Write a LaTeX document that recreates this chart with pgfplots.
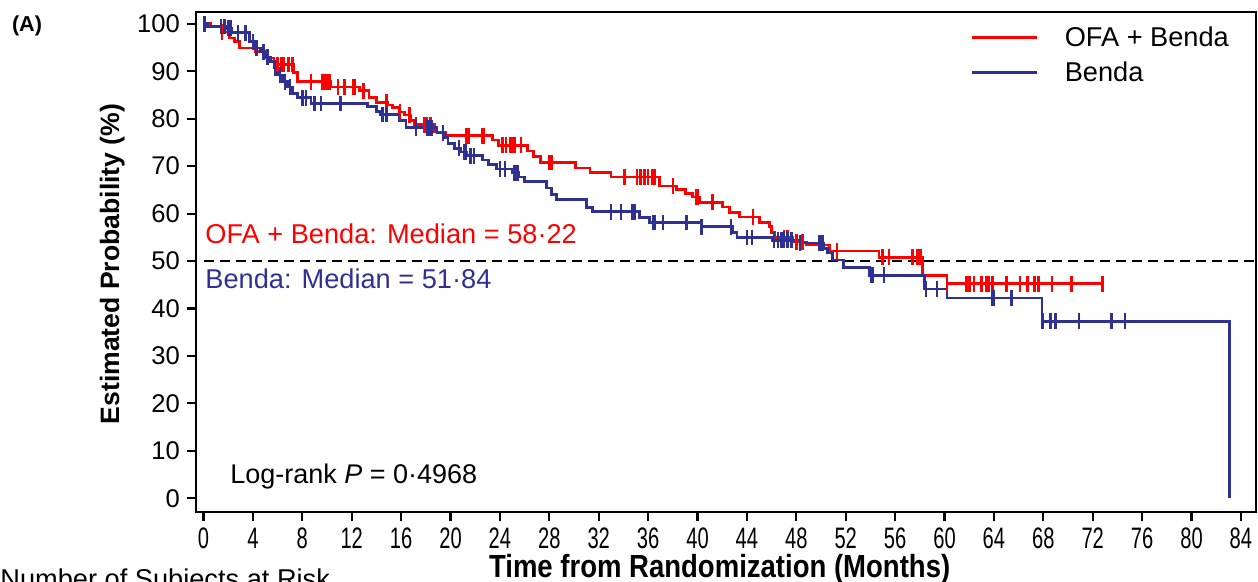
\documentclass[border=0pt]{standalone}
\usepackage{fontspec}
\setmainfont{Liberation Sans}
\newfontfamily\narrowfont[FakeStretch=0.68]{Liberation Sans}
\newfontfamily\narrowbold[FakeStretch=0.86]{Liberation Sans}
\usepackage{pgfplots}
\pgfplotsset{compat=1.18}
\definecolor{kmred}{RGB}{255,0,0}
\definecolor{kmblue}{RGB}{46,49,146}
\newcommand{\fs}[1]{\fontsize{#1}{#1}\selectfont}

\begin{document}
\begin{tikzpicture}
\begin{axis}[
  scale only axis,
  width=530pt, height=250pt,
  xmin=-0.61, xmax=85.22,
  ymin=-2.9, ymax=102.5,
  xtick={0,4,...,84},
  ytick={0,10,...,100},
  xtick pos=left, ytick pos=left,
  tick align=outside,
  major tick length=4.5pt,
  every tick/.style={black, line width=1.1pt},
  axis line style={line width=1.4pt},
  /pgf/number format/assume math mode=true,
  yticklabel style={font=\fs{12.8}},
  xticklabel style={font=\narrowfont\fs{14.8}},
  xlabel={Time from Randomization (Months)},
  xlabel style={at={(axis description cs:0.494,-0.114)}, anchor=center,
                font=\narrowbold\bfseries\fs{16}},
  ylabel={Estimated Probability (\%)},
  ylabel style={at={(axis description cs:-0.079,0.496)}, anchor=center,
                font=\bfseries\fs{13.3}},
  clip=false,
  legend style={at={(axis description cs:0.730,0.985)}, anchor=north west,
                draw=none, fill=none, inner sep=0pt, row sep=0pt,
                font=\fs{13.6},
                nodes={inner sep=2.4pt, text height=11pt, text depth=1.7pt, anchor=west},
                /tikz/every odd column/.append style={column sep=11pt}},
  legend cell align=left,
  legend image code/.code={\draw[#1] (0pt,0pt) -- (32.5pt,0pt);},
]

% median reference line
\addplot[black, line width=1.3pt, dash pattern=on 5pt off 3pt, forget plot]
  coordinates {(0,50) (85.22,50)};

% OFA + Benda
\addplot[kmred, line width=1.4pt, const plot mark left] coordinates {
  (0,100) (0.6,99.4) (1.5,98.3) (2.1,97.0) (2.5,96.2) (2.9,94.9) (4.2,94.1)
  (5.0,92.8) (5.7,91.4) (7.3,89.7) (7.6,87.8) (10.3,86.7) (12.6,85.9)
  (13.4,84.4) (14.0,83.5) (14.9,82.9) (15.3,82.3) (15.9,81.4) (16.3,80.8)
  (16.8,79.7) (17.1,78.7) (18.7,77.2) (19.6,76.4) (23.4,75.5) (23.9,74.4)
  (26.2,73.2) (26.7,72.0) (27.3,70.8) (30.1,69.6) (31.3,68.6) (33.0,67.7)
  (36.9,65.8) (38.3,65.0) (39.0,64.3) (39.6,63.5) (40.2,62.4) (42.0,61.4)
  (42.6,60.3) (43.4,59.3) (45.0,58.2) (45.8,57.2) (46.0,56.1) (46.2,54.9)
  (47.7,54.0) (48.8,53.4) (50.7,52.1) (54.7,50.8) (58.22,47.0) (60.2,45.2)
  (72.8,45.2)
};
\addlegendentry{OFA + Benda}

% Benda
\addplot[kmblue, line width=1.4pt, const plot mark left] coordinates {
  (0,100) (0.3,99.4) (1.8,99.1) (2.3,98.1) (3.7,96.2) (4.1,94.9) (4.6,94.1)
  (5.0,93.0) (5.4,92.0) (5.7,90.7) (6.0,89.2) (6.4,87.8) (6.8,86.7)
  (7.2,85.4) (7.6,84.4) (8.7,83.2) (13.3,82.5) (14.0,81.6) (14.3,80.9)
  (15.9,79.7) (16.4,78.1) (18.9,77.0) (19.5,76.0) (19.8,74.7) (20.3,73.8)
  (20.8,73.0) (21.3,72.2) (22.6,71.3) (23.1,70.3) (23.7,69.4) (25.0,68.6)
  (25.5,67.7) (26.0,66.7) (27.8,65.4) (28.2,64.0) (28.6,62.9) (31.0,61.3)
  (31.5,60.4) (35.3,59.1) (36.1,58.1) (40.3,57.2) (42.8,56.1) (43.2,55.0)
  (46.1,54.4) (48.3,53.8) (50.2,52.7) (50.5,51.7) (50.9,50.2) (51.84,48.7)
  (53.9,47.0) (58.4,44.1) (60.2,42.2) (67.9,37.3) (83.1,37.3) (83.1,0)
};
\addlegendentry{Benda}

% censored, OFA + Benda
\addplot[kmred, line width=1.3pt, only marks, mark=|, mark size=3.9pt, forget plot] coordinates {
  (1.5,98.3) (6.0,91.4) (6.3,91.4) (6.5,91.4) (6.9,91.4) (7.2,91.4)
  (8.7,87.8) (9.6,87.8) (9.8,87.8) (10.0,87.8) (10.2,87.8)
  (10.9,86.7) (11.4,86.7) (12.1,86.7) (12.2,86.7) (12.9,85.9) (13.0,85.9)
  (14.8,83.5) (15.9,81.4) (16.7,80.8) (17.2,78.7) (17.9,78.7) (18.1,78.7) (18.4,78.7)
  (21.3,76.4) (21.5,76.4) (22.6,76.4) (22.7,76.4)
  (24.2,74.4) (24.5,74.4) (24.8,74.4) (24.9,74.4) (25.0,74.4) (25.2,74.4) (25.7,74.4)
  (28.0,70.8) (28.2,70.8) (34.1,67.7)
  (35.1,67.7) (35.4,67.7) (35.7,67.7) (36.0,67.7) (36.3,67.7) (36.5,67.7)
  (38.0,65.8) (39.9,63.5) (40.0,63.5) (41.2,62.4) (44.5,59.3)
  (47.0,54.9) (47.3,54.9) (48.0,54.0) (48.5,54.0) (51.3,52.1)
  (55.0,50.8) (55.5,50.8) (57.4,50.8) (57.8,50.8) (58.0,50.8) (58.1,50.8)
  (60.2,45.2) (61.8,45.2) (62.0,45.2) (62.4,45.2) (63.0,45.2) (63.4,45.2)
  (63.6,45.2) (63.9,45.2) (65.0,45.2) (66.1,45.2) (66.7,45.2) (67.3,45.2)
  (67.6,45.2) (68.7,45.2) (70.3,45.2) (72.8,45.2)
};

% censored, Benda
\addplot[kmblue, line width=1.3pt, only marks, mark=|, mark size=3.9pt, forget plot] coordinates {
  (0.1,100) (1.4,99.4) (1.7,99.4) (2.0,99.1) (2.2,99.1) (2.8,98.1) (3.4,98.1)
  (4.0,96.2) (4.3,94.9) (4.8,94.1) (4.9,94.1) (5.2,93.0) (5.8,90.7) (6.2,89.2)
  (6.6,87.8) (7.0,86.7) (8.0,84.4) (8.3,84.4) (9.0,83.2) (9.5,83.2) (11.1,83.2)
  (14.5,80.9) (14.8,80.9) (17.2,78.1) (18.1,78.1) (18.3,78.1) (18.5,78.1)
  (19.4,77.0) (20.7,73.8) (21.1,73.0) (21.2,73.0) (21.6,72.2) (21.9,72.2)
  (24.0,69.4) (24.4,69.4) (25.2,68.6) (25.4,68.6)
  (33.0,60.4) (33.8,60.4) (34.7,60.4) (34.9,60.4)
  (36.4,58.1) (36.5,58.1) (37.2,58.1) (39.1,58.1) (40.3,57.2) (42.7,57.2)
  (44.0,55.0) (44.4,55.0)
  (46.2,54.4) (46.5,54.4) (46.8,54.4) (47.0,54.4) (47.3,54.4) (47.6,54.4)
  (48.3,53.8) (49.9,53.8) (50.1,53.8)
  (54.1,47.0) (54.2,47.0) (55.1,47.0) (58.5,44.1) (59.4,44.1)
  (63.9,42.2) (64.0,42.2) (65.4,42.2)
  (67.95,37.3) (68.6,37.3) (69.0,37.3) (70.9,37.3) (73.5,37.3) (74.6,37.3)
};

\node[anchor=west, inner sep=0pt, text=kmred, font=\fs{13.6}]
  at (axis cs:0.12,55.8) {OFA + Benda: Median = 58·22};
\node[anchor=west, inner sep=0pt, text=kmblue, font=\fs{13.6}]
  at (axis cs:0.12,46.3) {Benda: Median = 51·84};
\node[anchor=base west, inner sep=0pt, font=\fs{13.5}]
  at (axis cs:2.14,3.2) {Log-rank \textit{P} = 0·4968};
\end{axis}

\node[font=\bfseries\fs{10.8}] at (-84.5pt,243pt) {(A)};
\node[anchor=base west, inner sep=0pt, font=\fs{13.6}] at (-98pt,-38.5pt) {Number of Subjects at Risk};

\pgfresetboundingbox
\path (-98pt,-35pt) rectangle (531pt,256pt);
\end{tikzpicture}
\end{document}
